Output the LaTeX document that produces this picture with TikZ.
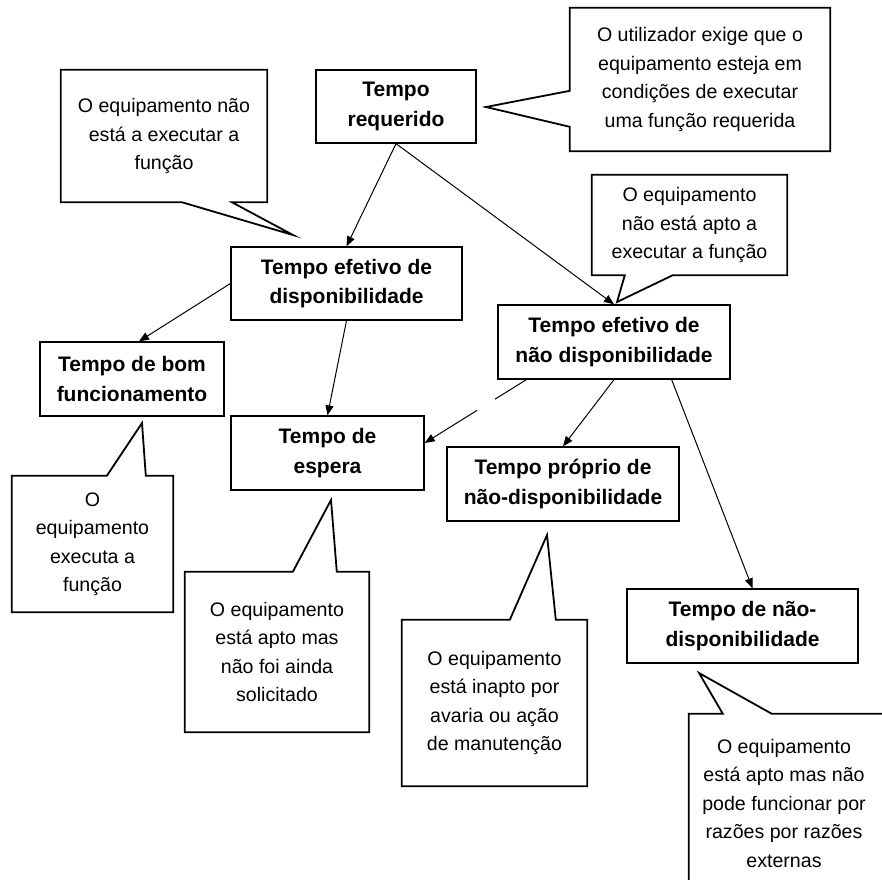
\documentclass[tikz,border=0pt]{standalone}
\usepackage{fontspec}
\setmainfont{Liberation Sans}
\usepackage{tikz}
\usetikzlibrary{arrows.meta, positioning, calc}
\tikzset{
  blk/.style    = {draw, line width=1.3pt, align=center, inner sep=0pt,
                   font=\fontsize{21}{29.5}\selectfont\bfseries},
  note/.style   = {align=center, inner sep=0pt,
                   font=\fontsize{19.6}{28.5}\selectfont},
  bubble/.style = {line width=1.8pt, line join=miter},
  flow/.style   = {-{Triangle[length=10pt, width=8pt]}, line width=1pt},
  gap flow/.style = {flow, dash pattern=on 37pt off 21pt on 300pt},
}

\begin{document}
\begin{tikzpicture}[x=1pt, y=-1pt]
    \useasboundingbox (0,0) rectangle (882,879);
    \clip (0,0) rectangle (882,879);

    \node[blk, minimum width=160pt, minimum height=73pt] (req) at (396,106.5) {Tempo\\requerido};
    \node[blk, minimum width=231pt, minimum height=73pt] (efd) at (346.5,283.5) {Tempo efetivo de\\disponibilidade};
    \node[blk, minimum width=232pt, minimum height=74pt] (efn) at (614,342) {Tempo efetivo de\\não disponibilidade};
    \node[blk, minimum width=184pt, minimum height=74pt] (bom) at (132,379) {Tempo de bom\\funcionamento};
    \node[blk, minimum width=193pt, minimum height=74pt] (esp) at (327.5,453) {Tempo de\\espera};
    \node[blk, minimum width=232pt, minimum height=74pt] (pro) at (563,484) {Tempo próprio de\\não-disponibilidade};
    \node[blk, minimum width=231pt, minimum height=74pt] (nd) at (742.5,626) {Tempo de não-\\disponibilidade};

    \draw[flow] (req.south) -- (efd.north);
    \draw[flow] (req.south) -- (efn.north);
    \draw[flow] (efd.west) -- ($(bom.north)+(7,0)$);
    \draw[flow] (efd.south) -- (esp.north);
    \draw[gap flow] ($(efn.south west)+(29,0)$) -- ($(esp.east)+(0,-10)$);
    \draw[flow] (efn.south) -- (pro.north);
    \draw[flow] ($(efn.south east)+(-59,0)$) -- ($(nd.north)+(10,0)$);

    \node[note, minimum width=260pt, minimum height=143pt] (rnote) at (700,79.5)
      {O utilizador exige que o\\equipamento esteja em\\condições de executar\\uma função requerida};
    \node[note, minimum width=206pt, minimum height=132pt] (dnote) at (164,136)
      {O equipamento não\\está a executar a\\função};
    \node[note, minimum width=195pt, minimum height=100pt] (nnote) at (689.5,225)
      {O equipamento\\não está apto a\\executar a função};
    \node[note, minimum width=161pt, minimum height=136pt] (bnote) at (92.5,544)
      {O\\equipamento\\executa a\\função};
    \node[note, minimum width=184pt, minimum height=160pt] (enote) at (277,652)
      {O equipamento\\está apto mas\\não foi ainda\\solicitado};
    \node[note, minimum width=185pt, minimum height=166pt] (pnote) at (494.5,703)
      {O equipamento\\está inapto por\\avaria ou ação\\de manutenção};
    \node[note, minimum width=190pt, minimum height=178pt] (xnote) at (784,803)
      {O equipamento\\está apto mas não\\pode funcionar por\\razões por razões\\externas};

    \coordinate (rtip) at (486,107);
    \coordinate (dtip) at (293,235);
    \coordinate (ntip) at (617,302);
    \coordinate (btip) at (142,423);
    \coordinate (etip) at (331,500);
    \coordinate (ptip) at (547,535);
    \coordinate (xtip) at (699,673);

    \draw[bubble] (rnote.north west) -- (rnote.north east) -- (rnote.south east) -- (rnote.south west)
      -- ($(rnote.north west)+(0,119)$) -- (rtip) -- ($(rnote.north west)+(0,83)$) -- cycle;
    \draw[bubble] (dnote.north west) -- (dnote.north east) -- (dnote.south east)
      -- ($(dnote.south west)+(171,0)$) -- (dtip) -- ($(dnote.south west)+(121,0)$) -- (dnote.south west) -- cycle;
    \draw[bubble] (nnote.north west) -- (nnote.north east) -- (nnote.south east)
      -- ($(nnote.south west)+(81,0)$) -- (ntip) -- ($(nnote.south west)+(33,0)$) -- (nnote.south west) -- cycle;
    \draw[bubble] (bnote.north west) -- ($(bnote.north west)+(95,0)$) -- (btip) -- ($(bnote.north west)+(134,0)$)
      -- (bnote.north east) -- (bnote.south east) -- (bnote.south west) -- cycle;
    \draw[bubble] (enote.north west) -- ($(enote.north west)+(108,0)$) -- (etip) -- ($(enote.north west)+(152,0)$)
      -- (enote.north east) -- (enote.south east) -- (enote.south west) -- cycle;
    \draw[bubble] (pnote.north west) -- ($(pnote.north west)+(108,0)$) -- (ptip) -- ($(pnote.north west)+(154,0)$)
      -- (pnote.north east) -- (pnote.south east) -- (pnote.south west) -- cycle;
    \draw[bubble] (xnote.north west) -- ($(xnote.north west)+(34,0)$) -- (xtip) -- ($(xnote.north west)+(83,0)$)
      -- ($(xnote.north east)+(20,0)$) -- ($(xnote.south east)+(20,0)$) -- (xnote.south west) -- cycle;
\end{tikzpicture}
\end{document}
